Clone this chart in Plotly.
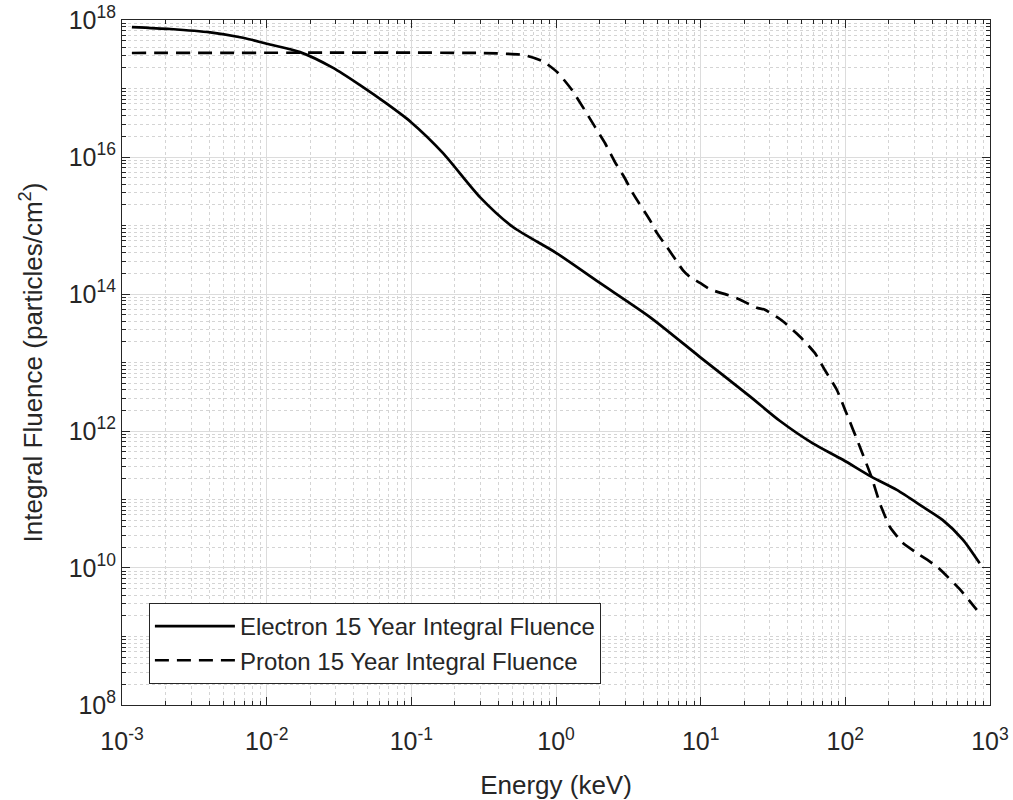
import plotly.graph_objects as go

# Electron 15-year integral fluence
electron_energy_kev = [1.17e-3, 2.15e-3, 4.07e-3, 6.86e-3, 1.0e-2, 1.70e-2, 2.88e-2, 4.42e-2,
                       6.76e-2, 0.1, 0.165, 0.298, 0.504, 1.0, 2.01, 4.46, 9.9, 21.9, 35.2,
                       59.6, 96.2, 152, 227, 344, 472, 649, 849]
electron_fluence = [7.9e17, 7.4e17, 6.6e17, 5.5e17, 4.5e17, 3.4e17, 2.0e17, 1.12e17,
                    6.0e16, 3.2e16, 1.15e16, 2.6e15, 9.5e14, 4.0e14, 1.45e14, 4.6e13, 1.2e13,
                    3.2e12, 1.41e12, 6.6e11, 3.8e11, 2.14e11, 1.38e11, 7.8e10, 5.0e10,
                    2.6e10, 1.17e10]

# Proton 15-year integral fluence
proton_energy_kev = [1.17e-3, 0.298, 0.59, 0.813, 1.03, 1.29, 1.53, 1.86, 2.18, 2.55, 2.99,
                     3.40, 4.46, 4.98, 5.83, 7.53, 8.41, 9.89, 11.6, 15.1, 17.8, 24.4, 27.8,
                     37.0, 48.5, 61.5, 72.1, 87.3, 100, 126, 152, 173, 203, 249, 327, 429,
                     618, 811]
proton_fluence = [3.3e17, 3.3e17, 3.1e17, 2.5e17, 1.7e17, 9.5e16, 5.4e16, 2.75e16, 1.6e16,
                  8.5e15, 4.9e15, 2.95e15, 1.2e15, 7.8e14, 4.9e14, 2.24e14, 1.78e14, 1.45e14,
                  1.17e14, 9.8e13, 8.7e13, 6.3e13, 5.9e13, 4.0e13, 2.4e13, 1.38e13, 7.8e12,
                  4.0e12, 2.0e12, 5.9e11, 2.1e11, 8.9e10, 4.0e10, 2.34e10, 1.55e10, 1.05e10,
                  4.9e9, 2.45e9]

series_names = ["Electron 15 Year Integral Fluence", "Proton 15 Year Integral Fluence"]
x_tick_vals = [1e-3, 1e-2, 1e-1, 1e0, 1e1, 1e2, 1e3]
x_tick_exp = ["-3", "-2", "-1", "0", "1", "2", "3"]
y_tick_vals = [1e8, 1e10, 1e12, 1e14, 1e16, 1e18]
y_tick_exp = ["8", "10", "12", "14", "16", "18"]
x_title = "Energy (keV)"
y_title = "Integral Fluence (particles/cm<sup>2</sup>)"

TXT = "#262626"
FONT = "Liberation Sans, Arial, sans-serif"


def power_labels(exps):
    return ["10<sup>%s</sup>" % e for e in exps]


fig = go.Figure()
fig.add_trace(go.Scatter(x=electron_energy_kev, y=electron_fluence, mode="lines",
                         name=series_names[0],
                         line=dict(color="black", width=2.7, shape="spline", smoothing=0.7)))
fig.add_trace(go.Scatter(x=proton_energy_kev, y=proton_fluence, mode="lines",
                         name=series_names[1],
                         line=dict(color="black", width=2.7, dash="14px,8px",
                                   shape="spline", smoothing=0.5)))

axis_common = dict(
    type="log",
    showline=True, linecolor=TXT, linewidth=1, mirror="ticks",
    ticks="inside", ticklen=8, tickwidth=1, tickcolor=TXT,
    showgrid=True, gridcolor="#dcdcdc", gridwidth=1,
    zeroline=False,
    tickmode="array",
    ticklabeloverflow="allow",
    tickfont=dict(family=FONT, size=25, color=TXT),
    minor=dict(dtick="D1", ticks="inside", ticklen=4, tickcolor=TXT,
               showgrid=True, gridcolor="#d4d4d4", griddash="dot", gridwidth=1),
)

fig.update_xaxes(**axis_common, range=[-3.0002, 3.0002], tickvals=x_tick_vals,
                 ticktext=power_labels(x_tick_exp), ticklabelstandoff=14,
                 title=dict(text=x_title, font=dict(family=FONT, size=26, color=TXT), standoff=29))
fig.update_yaxes(**axis_common, range=[7.9997, 18.0003], tickvals=y_tick_vals,
                 ticktext=power_labels(y_tick_exp),
                 title=dict(text=y_title, font=dict(family=FONT, size=26, color=TXT), standoff=18))

fig.update_layout(
    width=1013, height=800,
    margin=dict(l=122, r=23, t=20, b=95, autoexpand=False),
    paper_bgcolor="white", plot_bgcolor="white",
    font=dict(family=FONT, color=TXT),
    legend=dict(x=0.031, y=0.149, xanchor="left", yanchor="top",
                bgcolor="white", bordercolor=TXT, borderwidth=1,
                font=dict(family=FONT, size=24, color=TXT), itemwidth=80,
                tracegroupgap=0),
    showlegend=True,
)

fig.write_html("out.html", config={"displayModeBar": False},
               post_script="document.body.style.margin='0px';document.body.style.overflow='hidden';")
